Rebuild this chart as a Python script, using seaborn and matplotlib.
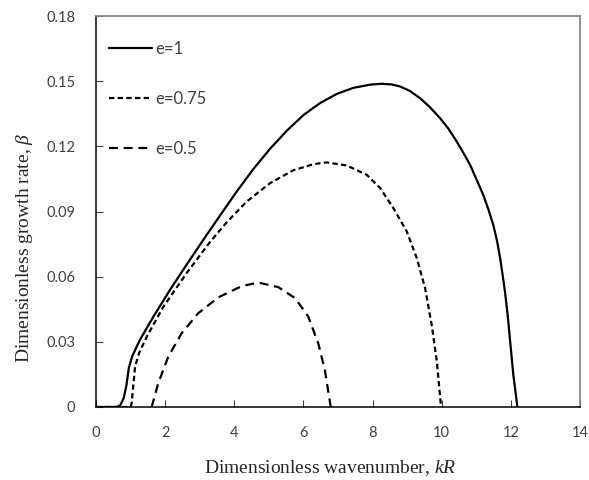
import numpy as np
import pandas as pd
import matplotlib
matplotlib.use("Agg")
import matplotlib.pyplot as plt
import seaborn as sns

# ---- data ----
kr_e1 = [0.0, 0.3, 0.6, 0.7, 0.8, 0.88, 0.95, 1.05, 1.27, 1.66, 2.14, 2.62, 3.20, 3.59, 4.07,
         4.55, 5.03, 5.52, 6.00, 6.48, 6.96, 7.44, 7.93, 8.25, 8.55, 8.79, 9.08, 9.37, 9.66,
         9.95, 10.20, 10.43, 10.62, 10.82, 11.00, 11.20, 11.35, 11.49, 11.60, 11.69, 11.76,
         11.83, 11.91, 11.98, 12.07, 12.19]
beta_e1 = [0.0, 0.0, 0.0, 0.0008, 0.004, 0.010, 0.018, 0.0235, 0.0309, 0.0416, 0.0539, 0.0655,
           0.0792, 0.0882, 0.0992, 0.1095, 0.1188, 0.1272, 0.1344, 0.1399, 0.1441, 0.1469,
           0.1484, 0.1488, 0.1485, 0.1476, 0.1455, 0.1422, 0.1380, 0.1330, 0.1280, 0.1223,
           0.1172, 0.1115, 0.1050, 0.0977, 0.0910, 0.0839, 0.0765, 0.0685, 0.0610, 0.0531,
           0.0420, 0.0301, 0.0150, 0.0]

kr_e075 = [0.0, 0.5, 1.0, 1.03, 1.08, 1.13, 1.25, 1.47, 1.95, 2.62, 3.30, 3.78, 4.36, 5.03,
           5.71, 6.29, 6.67, 7.25, 7.83, 8.22, 8.60, 8.99, 9.28, 9.52, 9.71, 9.86, 9.98]
beta_e075 = [0.0, 0.0, 0.0, 0.0017, 0.010, 0.0186, 0.025, 0.0324, 0.0462, 0.0616, 0.0760,
             0.0850, 0.0946, 0.1030, 0.1090, 0.1118, 0.1126, 0.1112, 0.1069, 0.1008, 0.0916,
             0.0808, 0.0685, 0.0547, 0.0378, 0.0209, 0.0]

kr_e05 = [1.61, 1.80, 2.09, 2.48, 2.96, 3.54, 4.21, 4.69, 5.27, 5.76, 6.14, 6.43, 6.62, 6.79]
beta_e05 = [0.0, 0.0109, 0.0232, 0.0340, 0.0432, 0.0505, 0.0556, 0.0573, 0.0552, 0.0501,
            0.0416, 0.0293, 0.0170, 0.0]

labels = ["e=1", "e=0.75", "e=0.5"]
x_ticks = [0, 2, 4, 6, 8, 10, 12, 14]
y_ticks = [0, 0.03, 0.06, 0.09, 0.12, 0.15, 0.18]
y_tick_labels = ["0", "0.03", "0.06", "0.09", "0.12", "0.15", "0.18"]

df = pd.concat([
    pd.DataFrame({"kR": kr_e1, "beta": beta_e1, "e": labels[0]}),
    pd.DataFrame({"kR": kr_e075, "beta": beta_e075, "e": labels[1]}),
    pd.DataFrame({"kR": kr_e05, "beta": beta_e05, "e": labels[2]}),
], ignore_index=True)

sns.set_style("white")
plt.rcParams["mathtext.fontset"] = "custom"
plt.rcParams["mathtext.rm"] = "Liberation Serif"
plt.rcParams["mathtext.it"] = "Liberation Serif:italic"

fig = plt.figure(figsize=(5.89, 4.80), dpi=100)
ax = fig.add_axes([96 / 589, 73 / 480, 484 / 589, 391 / 480])

dash_map = {labels[0]: "", labels[1]: (2.4, 1.5), labels[2]: (4.0, 2.6)}
sns.lineplot(data=df, x="kR", y="beta", style="e", style_order=labels, dashes=dash_map,
             color="black", linewidth=1.6, estimator=None, sort=False, legend=False, ax=ax)
for ln in ax.get_lines():
    ln.set_solid_joinstyle("round")
    ln.set_dash_joinstyle("round")

ax.set_xlim(0, 14)
ax.set_ylim(0, 0.18)
ax.set_xticks(x_ticks)
ax.set_xticklabels([str(t) for t in x_ticks])
ax.set_yticks(y_ticks)
ax.set_yticklabels(y_tick_labels)

for lab in ax.get_xticklabels() + ax.get_yticklabels():
    lab.set_fontfamily("Lato")
    lab.set_fontsize(10.5)
    lab.set_color("#404040")
ax.tick_params(axis="both", direction="in", length=5, width=0.8, color="#404040",
               left=True, bottom=True)
ax.tick_params(axis="y", pad=15)
ax.tick_params(axis="x", pad=14)

for side in ["left", "bottom"]:
    ax.spines[side].set_color("black")
    ax.spines[side].set_linewidth(1.1)
for side in ["top", "right"]:
    ax.spines[side].set_color("#888888")
    ax.spines[side].set_linewidth(1.3)

ax.set_xlabel("Dimensionless wavenumber, $kR$", family="Liberation Serif", fontsize=14)
ax.set_ylabel(r"Dimensionless growth rate, $\beta$", family="Liberation Serif", fontsize=14)
ax.xaxis.label.set_va("center")
ax.yaxis.label.set_va("center")
ax.yaxis.label.set_ha("center")
ax.xaxis.set_label_coords(0.484, -0.156)
ax.yaxis.set_label_coords(-0.147, 0.407)

handles = ax.get_lines()[:3]
leg = ax.legend(handles, labels, loc="upper left", bbox_to_anchor=(0.027, 0.937),
                frameon=False, handlelength=2.6, handletextpad=0.2, labelspacing=2.05,
                borderpad=0, borderaxespad=0, prop={"family": "Lato", "size": 12})
for t in leg.get_texts():
    t.set_color("#404040")

fig.savefig("out.png", dpi=100)
